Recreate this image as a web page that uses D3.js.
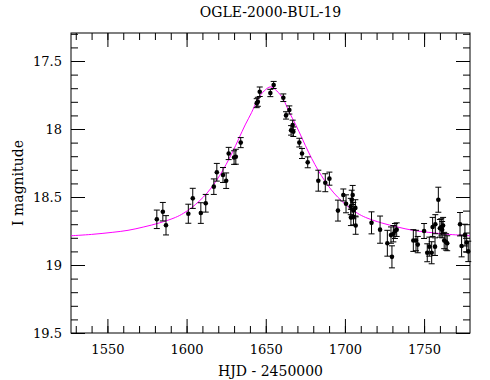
<!DOCTYPE html>
<html>
<head>
<meta charset="utf-8">
<script src="https://cdn.jsdelivr.net/npm/d3@7"></script>
<style>
body{margin:0;background:#fff;}
text{font-family:"DejaVu Serif",serif;fill:#000;}
.tick line{stroke:#000;}
</style>
</head>
<body>
<div id="viz_ogle"></div>
<script>
// photometry
var hjd=[1581.2,1585.0,1587.0,1601.1,1603.9,1609.0,1612.1,1617.2,1619.1,1623.0,1625.0,1626.6,1630.0,1631.1,1634.2,
1644.3,1645.0,1646.2,1652.9,1655.0,1661.1,1662.8,1664.9,1666.0,1667.0,1667.4,1671.2,1672.9,1676.5,
1683.2,1687.6,1690.2,1695.6,1699.0,1700.7,1703.7,1703.8,1704.3,1704.9,1705.3,1705.4,1706.6,1706.8,
1716.8,1722.2,1726.8,1729.1,1729.7,1730.6,1731.6,1732.7,1743.2,1744.9,1746.0,1750.0,1752.0,1753.3,
1754.8,1755.4,1756.9,1757.1,1759.0,1760.0,1760.9,1761.4,1762.0,1762.7,1763.8,1764.6,1772.7,1773.7,
1775.8,1776.9,1777.9];
var mag=[18.664,18.608,18.708,18.623,18.510,18.618,18.546,18.424,18.318,18.338,18.380,18.180,18.210,18.204,18.100,
17.810,17.800,17.726,17.735,17.676,17.770,17.900,17.860,18.010,17.970,18.020,18.100,18.180,18.245,
18.380,18.395,18.365,18.600,18.485,18.550,18.570,18.650,18.520,18.485,18.600,18.645,18.580,18.710,
18.690,18.740,18.840,18.780,18.940,18.770,18.750,18.740,18.820,18.820,18.850,18.750,18.910,18.865,
18.910,18.720,18.865,18.700,18.520,18.730,18.720,18.740,18.710,18.820,18.830,18.840,18.700,18.860,
18.780,18.835,18.900];
var err=[0.068,0.068,0.071,0.070,0.074,0.076,0.065,0.057,0.065,0.055,0.057,0.045,0.050,0.055,0.037,
0.033,0.033,0.035,0.027,0.026,0.028,0.027,0.030,0.035,0.035,0.035,0.032,0.037,0.040,
0.077,0.066,0.048,0.077,0.044,0.066,0.060,0.060,0.070,0.070,0.060,0.060,0.060,0.064,
0.081,0.100,0.095,0.060,0.081,0.060,0.055,0.050,0.080,0.075,0.060,0.055,0.066,0.070,
0.081,0.070,0.065,0.070,0.092,0.065,0.060,0.060,0.060,0.060,0.060,0.055,0.086,0.080,
0.080,0.070,0.075];

// model curve
var fitHjd=[1527,1540,1553,1563,1573,1583,1593,1598,1603,1608,1613,1617,1621,1625,1629,1633,1637,1641,1645,1649,
1653,1657,1661,1665,1669,1673,1677,1681,1685,1689,1693,1698,1703,1708,1713,1723,1733,1743,1753,1766,1779];
var fitMag=[18.785,18.775,18.760,18.745,18.720,18.690,18.650,18.620,18.580,18.530,18.470,18.410,18.340,18.260,18.170,18.070,17.970,17.880,17.780,17.720,
17.690,17.720,17.780,17.880,17.970,18.070,18.170,18.260,18.340,18.410,18.470,18.530,18.580,18.620,18.650,18.690,18.720,18.745,18.760,18.775,18.785];

var xTicks=[1550,1600,1650,1700,1750];
var yTicks=[17.5,18,18.5,19,19.5];

var width=490, height=380;
var pLeft=71, pRight=470, pTop=33, pBottom=333;

var svg=d3.select("#viz_ogle")
          .append("svg")
          .attr("width",width)
          .attr("height",height);

var xScale=d3.scaleLinear().domain([1527,1779]).range([pLeft,pRight]);
var yScale=d3.scaleLinear().domain([17.294,19.5]).range([pTop,pBottom]);

var xMinor=d3.range(1530,1780,10);
var yMinor=d3.range(17.3,19.51,0.1).map(function(v){return +v.toFixed(1);});

// bottom axis with labels
svg.append("g")
  .attr("transform","translate(0,"+pBottom+")")
  .call(d3.axisBottom(xScale).tickValues(xTicks).tickSize(-14).tickPadding(12).tickFormat(d3.format("d")))
  .attr("class","axis");
svg.append("g")
  .attr("transform","translate(0,"+pBottom+")")
  .call(d3.axisBottom(xScale).tickValues(xMinor).tickSize(-7).tickFormat(""));
// top axis
svg.append("g")
  .attr("transform","translate(0,"+pTop+")")
  .call(d3.axisTop(xScale).tickValues(xTicks).tickSize(-14).tickFormat(""));
svg.append("g")
  .attr("transform","translate(0,"+pTop+")")
  .call(d3.axisTop(xScale).tickValues(xMinor).tickSize(-7).tickFormat(""));
// left axis with labels
svg.append("g")
  .attr("transform","translate("+pLeft+",0)")
  .call(d3.axisLeft(yScale).tickValues(yTicks).tickSize(-14).tickPadding(9).tickFormat(d3.format("")))
  .attr("class","axis");
svg.append("g")
  .attr("transform","translate("+pLeft+",0)")
  .call(d3.axisLeft(yScale).tickValues(yMinor).tickSize(-7).tickFormat(""));
// right axis
svg.append("g")
  .attr("transform","translate("+pRight+",0)")
  .call(d3.axisRight(yScale).tickValues(yTicks).tickSize(-14).tickFormat(""));
svg.append("g")
  .attr("transform","translate("+pRight+",0)")
  .call(d3.axisRight(yScale).tickValues(yMinor).tickSize(-7).tickFormat(""));

svg.selectAll(".domain").remove();
svg.selectAll(".axis text").style("font-size","13px");

svg.append("rect")
  .attr("x",pLeft).attr("y",pTop)
  .attr("width",pRight-pLeft).attr("height",pBottom-pTop)
  .attr("fill","none").attr("stroke","#000").attr("stroke-width",1);

// model
var line=d3.line()
  .x(function(d,i){return xScale(fitHjd[i]);})
  .y(function(d){return yScale(d);})
  .curve(d3.curveCatmullRom);
svg.append("path")
  .datum(fitMag)
  .attr("d",line)
  .attr("fill","none")
  .attr("stroke","#ff00ff")
  .attr("stroke-width",1);

// data with error bars
var pts=svg.append("g").selectAll("g")
  .data(hjd)
  .enter()
  .append("g");
pts.append("line")
  .attr("x1",function(d){return xScale(d);})
  .attr("x2",function(d){return xScale(d);})
  .attr("y1",function(d,i){return yScale(mag[i]-err[i]);})
  .attr("y2",function(d,i){return yScale(mag[i]+err[i]);})
  .attr("stroke","#000");
pts.append("line")
  .attr("x1",function(d){return xScale(d)-3;})
  .attr("x2",function(d){return xScale(d)+3;})
  .attr("y1",function(d,i){return yScale(mag[i]-err[i]);})
  .attr("y2",function(d,i){return yScale(mag[i]-err[i]);})
  .attr("stroke","#000");
pts.append("line")
  .attr("x1",function(d){return xScale(d)-3;})
  .attr("x2",function(d){return xScale(d)+3;})
  .attr("y1",function(d,i){return yScale(mag[i]+err[i]);})
  .attr("y2",function(d,i){return yScale(mag[i]+err[i]);})
  .attr("stroke","#000");
pts.append("circle")
  .attr("cx",function(d){return xScale(d);})
  .attr("cy",function(d,i){return yScale(mag[i]);})
  .attr("r",2.3)
  .attr("fill","#000");

svg.append("text")
  .attr("x",(pLeft+pRight)/2)
  .attr("y",17)
  .text("OGLE-2000-BUL-19")
  .style("font-size","14px")
  .style("text-anchor","middle");

svg.append("text")
  .attr("x",(pLeft+pRight)/2)
  .attr("y",376)
  .text("HJD - 2450000")
  .style("font-size","14px")
  .style("text-anchor","middle");

svg.append("text")
  .attr("transform","translate(23,183) rotate(-90)")
  .text("I magnitude")
  .style("font-size","14px")
  .style("text-anchor","middle");
</script>
</body>
</html>
